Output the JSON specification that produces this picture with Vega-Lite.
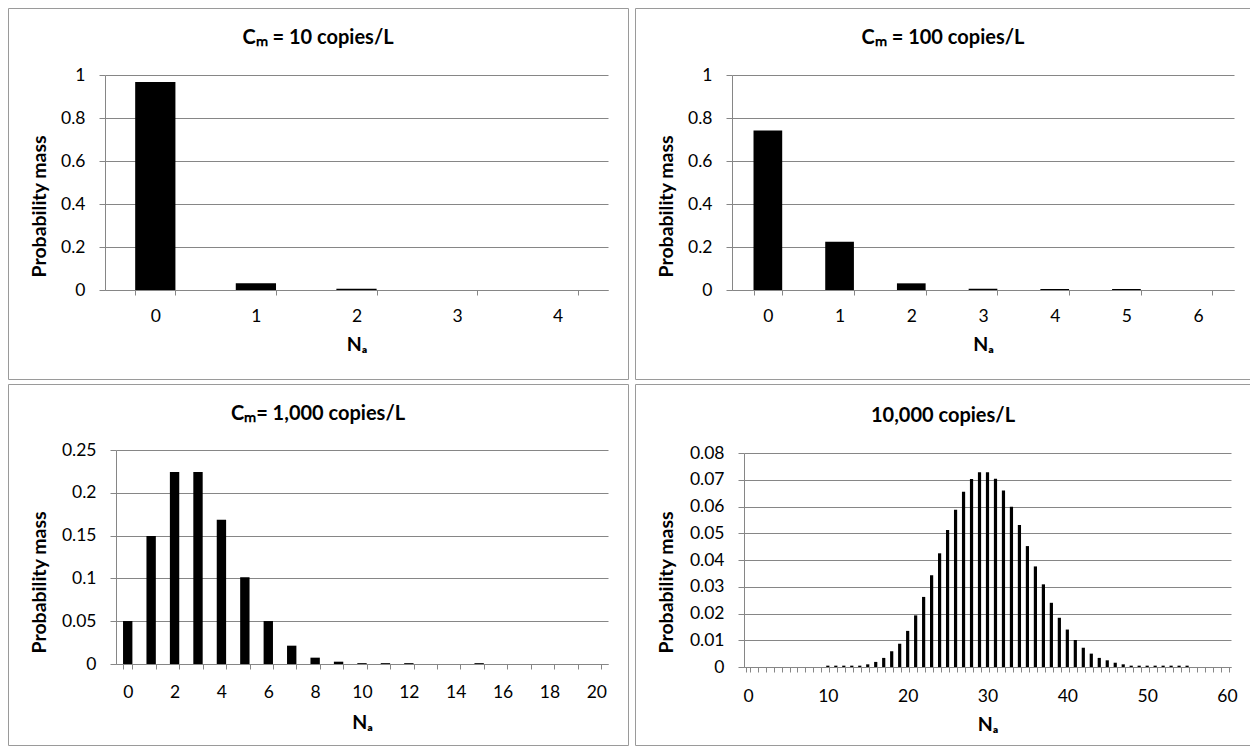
{
  "$schema": "https://vega.github.io/schema/vega-lite/v6.json",
  "background": "white",
  "padding": {"left": 7, "top": 7, "right": 0, "bottom": 0},
  "spacing": 3,
  "datasets": {
    "c10": [
      {"n": 0, "p": 0.968}, {"n": 1, "p": 0.031}, {"n": 2, "p": 0.006}, {"n": 3, "p": 0}, {"n": 4, "p": 0}
    ],
    "c100": [
      {"n": 0, "p": 0.742}, {"n": 1, "p": 0.224}, {"n": 2, "p": 0.031}, {"n": 3, "p": 0.006}, {"n": 4, "p": 0.005}, {"n": 5, "p": 0.005}, {"n": 6, "p": 0}
    ],
    "c1000": [
      {"n": 0, "p": 0.0502}, {"n": 1, "p": 0.1495}, {"n": 2, "p": 0.2243}, {"n": 3, "p": 0.2243}, {"n": 4, "p": 0.1686},
      {"n": 5, "p": 0.1012}, {"n": 6, "p": 0.0502}, {"n": 7, "p": 0.0214}, {"n": 8, "p": 0.0074}, {"n": 9, "p": 0.0027},
      {"n": 10, "p": 0.001}, {"n": 11, "p": 0.001}, {"n": 12, "p": 0.001}, {"n": 13, "p": 0}, {"n": 14, "p": 0},
      {"n": 15, "p": 0.001}, {"n": 16, "p": 0}, {"n": 17, "p": 0}, {"n": 18, "p": 0}, {"n": 19, "p": 0}, {"n": 20, "p": 0}
    ],
    "c10000": [
      {"n": 0, "p": 0}, {"n": 1, "p": 0}, {"n": 2, "p": 0}, {"n": 3, "p": 0}, {"n": 4, "p": 0},
      {"n": 5, "p": 0}, {"n": 6, "p": 0}, {"n": 7, "p": 0}, {"n": 8, "p": 0}, {"n": 9, "p": 0},
      {"n": 10, "p": 0.0005}, {"n": 11, "p": 0.0005}, {"n": 12, "p": 0.0005}, {"n": 13, "p": 0.0005}, {"n": 14, "p": 0.0005},
      {"n": 15, "p": 0.001}, {"n": 16, "p": 0.0019}, {"n": 17, "p": 0.0034}, {"n": 18, "p": 0.0059}, {"n": 19, "p": 0.0087},
      {"n": 20, "p": 0.0135}, {"n": 21, "p": 0.0193}, {"n": 22, "p": 0.0262}, {"n": 23, "p": 0.0343}, {"n": 24, "p": 0.0425},
      {"n": 25, "p": 0.0512}, {"n": 26, "p": 0.0588}, {"n": 27, "p": 0.0655}, {"n": 28, "p": 0.0703}, {"n": 29, "p": 0.0728},
      {"n": 30, "p": 0.0728}, {"n": 31, "p": 0.0704}, {"n": 32, "p": 0.066}, {"n": 33, "p": 0.0599}, {"n": 34, "p": 0.0531},
      {"n": 35, "p": 0.0452}, {"n": 36, "p": 0.0376}, {"n": 37, "p": 0.0309}, {"n": 38, "p": 0.024}, {"n": 39, "p": 0.0184},
      {"n": 40, "p": 0.014}, {"n": 41, "p": 0.0101}, {"n": 42, "p": 0.0072}, {"n": 43, "p": 0.005}, {"n": 44, "p": 0.0034},
      {"n": 45, "p": 0.0025}, {"n": 46, "p": 0.0016}, {"n": 47, "p": 0.001}, {"n": 48, "p": 0.0005}, {"n": 49, "p": 0.0005},
      {"n": 50, "p": 0.0005}, {"n": 51, "p": 0.0005}, {"n": 52, "p": 0.0005}, {"n": 53, "p": 0.0005}, {"n": 54, "p": 0.0005},
      {"n": 55, "p": 0.0005}, {"n": 56, "p": 0}, {"n": 57, "p": 0}, {"n": 58, "p": 0}, {"n": 59, "p": 0}, {"n": 60, "p": 0}
    ]
  },
  "config": {
    "font": "Lato",
    "view": {"stroke": "#9a9a9a", "strokeWidth": 1},
    "axis": {
      "labelFont": "Lato", "labelFontSize": 17.5, "labelColor": "#000000",
      "titleFont": "Lato", "titleFontSize": 19.5, "titleFontWeight": "bold", "titleColor": "#000000",
      "domainColor": "#868686", "tickColor": "#868686", "gridColor": "#868686",
      "domainWidth": 1, "tickWidth": 1, "gridWidth": 1
    },
    "axisX": {"grid": false, "tickSize": 5, "labelPadding": 12, "titlePadding": 11, "labelAngle": 0, "tickBand": "extent", "labelOverlap": false, "labelFlush": false},
    "axisY": {"grid": true, "tickSize": 6, "labelPadding": 14, "format": "~g", "titleAngle": -90},
    "title": {"font": "Lato", "fontSize": 20, "fontWeight": "bold", "color": "#000000", "anchor": "middle", "frame": "bounds"},
    "bar": {"color": "#000000"}
  },
  "vconcat": [
    {
      "spacing": 5,
      "hconcat": [
        {
          "data": {"name": "c10"},
          "title": {"text": "Cₘ = 10 copies/L", "offset": -40},
          "width": 620, "height": 371,
          "mark": {"type": "bar", "color": "#000000"},
          "encoding": {
            "x": {"field": "n", "type": "ordinal", "scale": {"paddingInner": 0.6, "paddingOuter": 0.3, "range": [97, 600]},
                  "axis": {"title": "Nₐ", "offset": -89}},
            "y": {"field": "p", "type": "quantitative", "scale": {"domain": [0, 1], "nice": false, "range": [282, 67]},
                  "axis": {"title": "Probability mass", "values": [0, 0.2, 0.4, 0.6, 0.8, 1], "offset": -97, "titleX": -56, "titleY": 198}}
          }
        },
        {
          "data": {"name": "c100"},
          "title": {"text": "Cₘ = 100 copies/L", "offset": -40},
          "width": 616, "height": 371,
          "mark": {"type": "bar", "color": "#000000"},
          "encoding": {
            "x": {"field": "n", "type": "ordinal", "scale": {"paddingInner": 0.6, "paddingOuter": 0.3, "range": [97, 599]},
                  "axis": {"title": "Nₐ", "offset": -89}},
            "y": {"field": "p", "type": "quantitative", "scale": {"domain": [0, 1], "nice": false, "range": [282, 67]},
                  "axis": {"title": "Probability mass", "values": [0, 0.2, 0.4, 0.6, 0.8, 1], "offset": -97, "titleX": -56, "titleY": 198}}
          }
        }
      ]
    },
    {
      "spacing": 5,
      "hconcat": [
        {
          "data": {"name": "c1000"},
          "title": {"text": "Cₘ= 1,000 copies/L", "offset": -40},
          "width": 620, "height": 361,
          "mark": {"type": "bar", "color": "#000000"},
          "encoding": {
            "x": {"field": "n", "type": "ordinal", "scale": {"paddingInner": 0.6, "paddingOuter": 0.3, "range": [108, 600]},
                  "axis": {"title": "Nₐ", "offset": -81, "labelExpr": "datum.value % 2 === 0 ? datum.label : ''", "labelPadding": 14, "titlePadding": 13}},
            "y": {"field": "p", "type": "quantitative", "scale": {"domain": [0, 0.25], "nice": false, "range": [280, 66]},
                  "axis": {"title": "Probability mass", "values": [0, 0.05, 0.1, 0.15, 0.2, 0.25], "offset": -108, "titleX": -67, "titleY": 198}}
          }
        },
        {
          "data": {"name": "c10000"},
          "title": {"text": "10,000 copies/L", "offset": -42},
          "width": 616, "height": 361,
          "mark": {"type": "bar", "color": "#000000"},
          "encoding": {
            "x": {"field": "n", "type": "ordinal", "scale": {"paddingInner": 0.6, "paddingOuter": 0.3, "range": [109, 596]},
                  "axis": {"title": "Nₐ", "offset": -78, "labelExpr": "datum.value % 10 === 0 ? datum.label : ''", "labelPadding": 15, "titlePadding": 11}},
            "y": {"field": "p", "type": "quantitative", "scale": {"domain": [0, 0.08], "nice": false, "range": [283, 69]},
                  "axis": {"title": "Probability mass", "values": [0, 0.01, 0.02, 0.03, 0.04, 0.05, 0.06, 0.07, 0.08], "offset": -109, "titleX": -68, "titleY": 198}}
          }
        }
      ]
    }
  ]
}
